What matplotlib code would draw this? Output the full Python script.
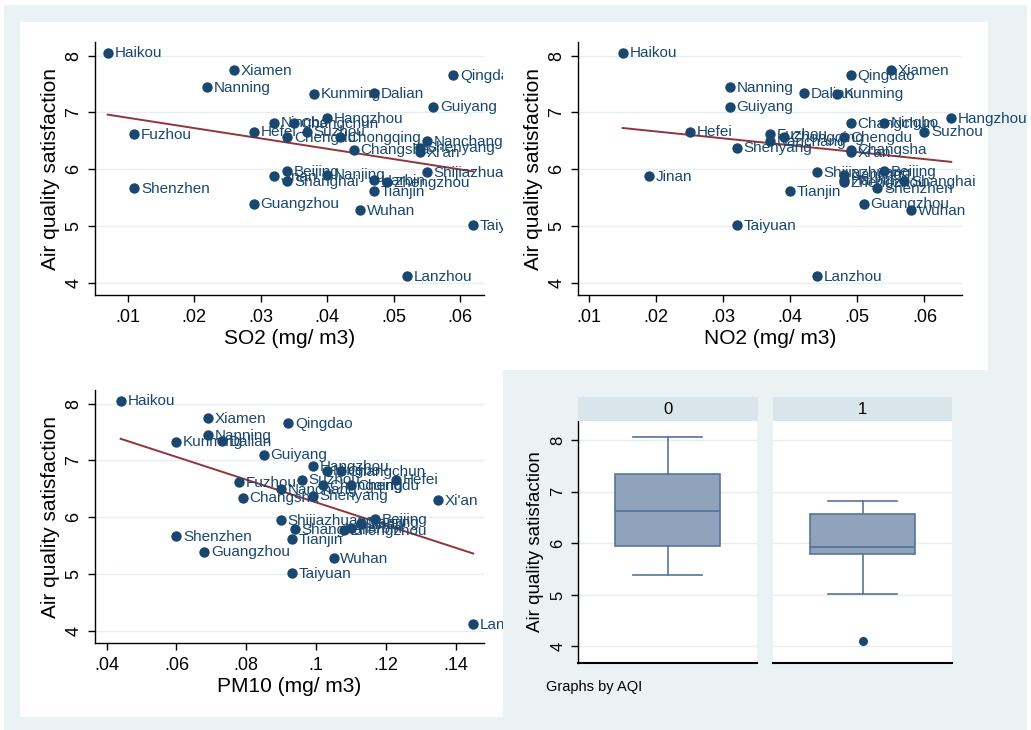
import matplotlib
matplotlib.use('Agg')
import matplotlib.pyplot as plt
import numpy as np
from matplotlib.patches import Rectangle
from matplotlib.ticker import FuncFormatter, FixedLocator
from matplotlib.transforms import Bbox, TransformedBbox

plt.rcParams['font.family'] = ['Liberation Sans', 'DejaVu Sans']

# ---------------- data ----------------
cities = ["Haikou", "Xiamen", "Nanning", "Qingdao", "Kunming", "Dalian", "Guiyang",
          "Hangzhou", "Ningbo", "Changchun", "Hefei", "Suzhou", "Chengdu", "Chongqing",
          "Fuzhou", "Nanchang", "Changsha", "Xi'an", "Shenyang", "Shijiazhuang",
          "Beijing", "Jinan", "Nanjing", "Shanghai", "Harbin", "Zhengzhou", "Tianjin",
          "Shenzhen", "Guangzhou", "Wuhan", "Taiyuan", "Lanzhou"]
satisfaction = [8.05, 7.74, 7.45, 7.65, 7.33, 7.34, 7.10,
                6.90, 6.82, 6.81, 6.66, 6.66, 6.56, 6.56,
                6.61, 6.49, 6.34, 6.30, 6.38, 5.95,
                5.96, 5.87, 5.90, 5.79, 5.81, 5.77, 5.61,
                5.66, 5.39, 5.27, 5.01, 4.11]
so2 = [0.007, 0.026, 0.022, 0.059, 0.038, 0.047, 0.056,
       0.040, 0.032, 0.035, 0.029, 0.037, 0.034, 0.042,
       0.011, 0.055, 0.044, 0.054, 0.054, 0.055,
       0.034, 0.032, 0.040, 0.034, 0.047, 0.049, 0.047,
       0.011, 0.029, 0.045, 0.062, 0.052]
no2 = [0.015, 0.055, 0.031, 0.049, 0.047, 0.042, 0.031,
       0.064, 0.054, 0.049, 0.025, 0.060, 0.048, 0.039,
       0.037, 0.037, 0.049, 0.049, 0.032, 0.044,
       0.054, 0.019, 0.048, 0.057, 0.048, 0.048, 0.040,
       0.053, 0.051, 0.058, 0.032, 0.044]
pm10 = [0.044, 0.069, 0.069, 0.092, 0.060, 0.073, 0.085,
        0.099, 0.103, 0.107, 0.123, 0.096, 0.110, 0.102,
        0.078, 0.090, 0.079, 0.135, 0.099, 0.090,
        0.117, 0.113, 0.113, 0.094, 0.110, 0.108, 0.093,
        0.060, 0.068, 0.105, 0.093, 0.145]

so2_ticks = [0.01, 0.02, 0.03, 0.04, 0.05, 0.06]
no2_ticks = [0.01, 0.02, 0.03, 0.04, 0.05, 0.06]
pm10_ticks = [0.04, 0.06, 0.08, 0.10, 0.12, 0.14]
y_ticks = [4, 5, 6, 7, 8]

aqi_groups = ["0", "1"]
box_med = [6.63, 5.92]
box_q1 = [5.95, 5.79]
box_q3 = [7.35, 6.56]
box_lo = [5.39, 5.02]
box_hi = [8.06, 6.82]
box_out = [[], [4.10]]

# ---------------- style ----------------
NAVY = '#1a476f'
MAROON = '#90353b'
BG = '#eaf2f3'
STRIP = '#d8e5eb'
GRID = '#e6eef1'
BOXFACE = '#8fa3bc'
BOXEDGE = '#56749a'

W, H = 1031, 730
fig = plt.figure(figsize=(W / 100, H / 100), dpi=100)
fig.patch.set_facecolor('white')


def fig_rect(x0, y0, x1, y1, color):
    r = Rectangle((x0 / W, 1 - y1 / H), (x1 - x0) / W, (y1 - y0) / H,
                  transform=fig.transFigure, facecolor=color, edgecolor='none', zorder=-10)
    fig.add_artist(r)


def ax_at(x0, y0, x1, y1):
    return fig.add_axes([x0 / W, 1 - y1 / H, (x1 - x0) / W, (y1 - y0) / H])


fig_rect(4, 5, 1027, 730, BG)
fig_rect(20, 22, 988, 370, 'white')
fig_rect(20, 370, 503, 717, 'white')


def fmt_tick(v, p):
    s = ('%.2f' % v).rstrip('0')
    if s.startswith('0'):
        s = s[1:]
    return s


def style_axes(ax, fs_tick=13):
    for side in ['top', 'right']:
        ax.spines[side].set_visible(False)
    for side in ['left', 'bottom']:
        ax.spines[side].set_color('black')
        ax.spines[side].set_linewidth(1.0)
    ax.tick_params(direction='out', length=5, width=1, labelsize=fs_tick, colors='black')
    ax.tick_params(axis='y', labelrotation=90, pad=4)
    ax.tick_params(axis='x', pad=5)
    for lbl in ax.get_yticklabels():
        lbl.set_va('center')
    ax.yaxis.grid(True, color=GRID, lw=1.0)
    ax.set_axisbelow(True)


def scatter_panel(ax, x, xlabel, xticks, xlim, clip_right=None):
    ax.set_facecolor('none')
    ax.set_xlim(*xlim)
    ax.set_ylim(3.78, 8.24)
    ax.xaxis.set_major_locator(FixedLocator(xticks))
    ax.xaxis.set_major_formatter(FuncFormatter(fmt_tick))
    ax.yaxis.set_major_locator(FixedLocator(y_ticks))
    style_axes(ax)
    ax.scatter(x, satisfaction, s=56, color=NAVY, linewidths=0, zorder=3, clip_on=False)
    for xi, yi, name in zip(x, satisfaction, cities):
        t = ax.annotate(name, (xi, yi), xytext=(4.8, -0.5), textcoords='offset points',
                        ha='left', va='center', fontsize=11, color=NAVY,
                        annotation_clip=False, zorder=4)
        if clip_right is not None:
            bb = TransformedBbox(Bbox([[0, 0], [clip_right / W, 1]]), fig.transFigure)
            t.set_clip_box(bb)
            t.set_clip_on(True)
    coef = np.polyfit(x, satisfaction, 1)
    xs = np.array([min(x), max(x)])
    ax.plot(xs, np.polyval(coef, xs), color=MAROON, lw=1.4, zorder=2)
    ax.set_xlabel(xlabel, fontsize=15, labelpad=2)
    ax.set_ylabel('Air quality satisfaction', fontsize=15, labelpad=4)


ax1 = ax_at(95, 42, 484, 295)
scatter_panel(ax1, so2, 'SO2 (mg/ m3)', so2_ticks, (0.00509, 0.0636), clip_right=503)

ax2 = ax_at(578, 42, 962, 295)
scatter_panel(ax2, no2, 'NO2 (mg/ m3)', no2_ticks, (0.00835, 0.0656))

ax3 = ax_at(95, 390, 484, 643)
scatter_panel(ax3, pm10, 'PM10 (mg/ m3)', pm10_ticks, (0.03666, 0.1481), clip_right=503)

# ---------------- box plots by AQI ----------------
panels = [(578, 757), (773, 952)]
for i, (x0, x1) in enumerate(panels):
    ax = ax_at(x0, 421, x1, 663)
    ax.set_facecolor('white')
    stats = [dict(med=box_med[i], q1=box_q1[i], q3=box_q3[i],
                  whislo=box_lo[i], whishi=box_hi[i], fliers=box_out[i])]
    ax.bxp(stats, positions=[0.5], widths=0.59, capwidths=0.39, patch_artist=True,
           showfliers=True,
           boxprops=dict(facecolor=BOXFACE, edgecolor=BOXEDGE, lw=1.2),
           medianprops=dict(color=BOXEDGE, lw=1.3),
           whiskerprops=dict(color=BOXEDGE, lw=1.2),
           capprops=dict(color=BOXEDGE, lw=1.2),
           flierprops=dict(marker='o', markerfacecolor=NAVY, markeredgecolor=NAVY,
                           markersize=5.5))
    ax.set_xlim(0, 1)
    ax.set_ylim(3.68, 8.37)
    ax.yaxis.set_major_locator(FixedLocator(y_ticks))
    style_axes(ax, fs_tick=12)
    ax.set_xticks([])
    ax.spines['bottom'].set_linewidth(1.5)
    if i == 0:
        ax.set_ylabel('Air quality satisfaction', fontsize=13.5, labelpad=5)
    else:
        ax.spines['left'].set_visible(False)
        ax.tick_params(axis='y', left=False, labelleft=False)
    sax = ax_at(x0, 397, x1 + (1 if i == 0 else 0), 421)
    sax.set_facecolor(STRIP)
    for s in sax.spines.values():
        s.set_visible(False)
    sax.set_xticks([])
    sax.set_yticks([])
    sax.text(0.5, 0.5, aqi_groups[i], ha='center', va='center', fontsize=12,
             color='black', transform=sax.transAxes)

fig.text(546 / W, 1 - 687 / H, 'Graphs by AQI', ha='left', va='center', fontsize=10.5,
         color='black')

fig.savefig('out.png', dpi=100, facecolor=fig.get_facecolor())
